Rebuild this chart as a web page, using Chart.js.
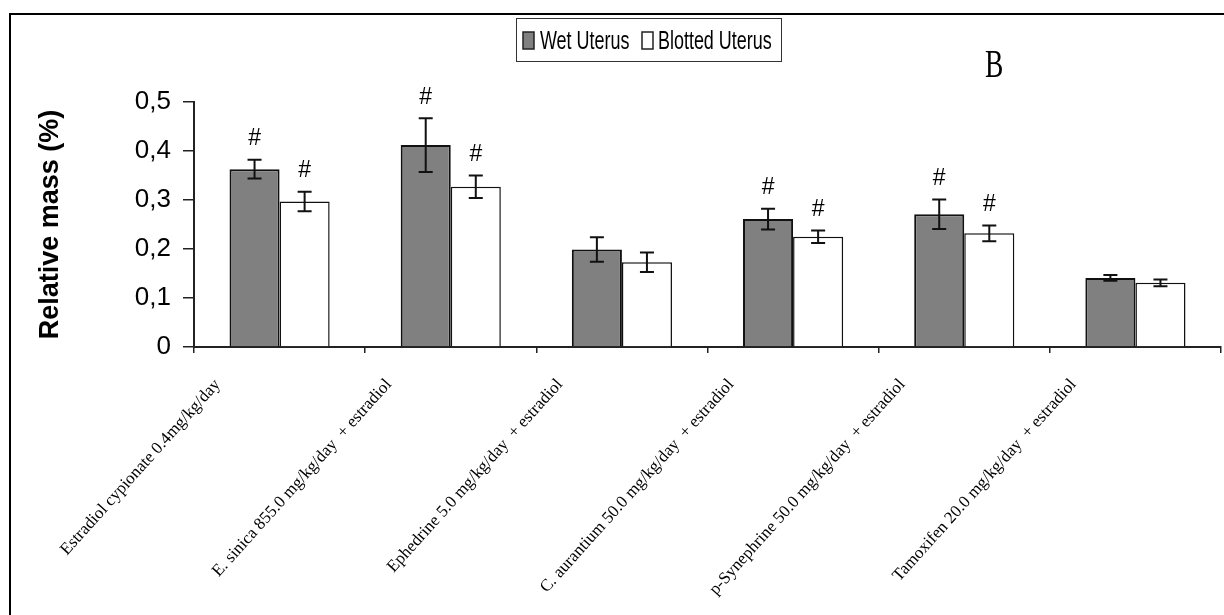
<!DOCTYPE html>
<html>
<head>
<meta charset="utf-8">
<script src="https://cdn.jsdelivr.net/npm/chart.js@4.4.0/dist/chart.umd.min.js"></script>
<style>
  body { margin: 0; background: #fff; }
  #wrap { width: 1224px; height: 615px; }
</style>
</head>
<body>
<div id="wrap"><canvas id="uterusChart" width="1224" height="615"></canvas></div>
<script>
const categories = [
    'Estradiol cypionate 0.4mg/kg/day',
    'E. sinica 855.0 mg/kg/day  + estradiol',
    'Ephedrine 5.0 mg/kg/day  + estradiol',
    'C. aurantium 50.0 mg/kg/day  + estradiol',
    'p-Synephrine 50.0 mg/kg/day  + estradiol',
    'Tamoxifen 20.0 mg/kg/day  + estradiol'
];
const wetUterus = [0.363, 0.412, 0.199, 0.261, 0.271, 0.141];
const wetErr = [0.019, 0.055, 0.025, 0.021, 0.030, 0.006];
const blottedUterus = [0.297, 0.327, 0.173, 0.225, 0.232, 0.131];
const blottedErr = [0.020, 0.023, 0.020, 0.013, 0.016, 0.007];
// '#' = significant
const wetSig = [true, true, false, true, true, false];
const blottedSig = [true, true, false, true, true, false];
const yTickLabels = ['0', '0,1', '0,2', '0,3', '0,4', '0,5'];

// error bars, '#' marks, legend box, frame and panel letter
const extras = {
    id: 'extras',
    afterDatasetsDraw(chart) {
        const ctx = chart.ctx;
        const y = chart.scales.y;
        ctx.save();
        chart.data.datasets.forEach((ds, di) => {
            const meta = chart.getDatasetMeta(di);
            meta.data.forEach((bar, i) => {
                const v = ds.data[i], e = ds.errors[i];
                const top = y.getPixelForValue(v + e);
                const bot = y.getPixelForValue(v - e);
                ctx.strokeStyle = '#111';
                ctx.lineWidth = 2;
                ctx.beginPath();
                ctx.moveTo(bar.x, top); ctx.lineTo(bar.x, bot);
                ctx.moveTo(bar.x - 7, top); ctx.lineTo(bar.x + 7, top);
                ctx.moveTo(bar.x - 7, bot); ctx.lineTo(bar.x + 7, bot);
                ctx.stroke();
                if (ds.sig[i]) {
                    ctx.fillStyle = '#000';
                    ctx.font = '23px "Liberation Sans", Arial';
                    ctx.textAlign = 'center';
                    ctx.textBaseline = 'middle';
                    ctx.fillText('#', bar.x, top - 21);
                }
            });
        });
        ctx.restore();
    },
    afterDraw(chart) {
        const ctx = chart.ctx;
        ctx.save();
        // frame
        ctx.strokeStyle = '#000';
        ctx.lineWidth = 2;
        ctx.beginPath();
        ctx.moveTo(10, 615); ctx.lineTo(10, 14); ctx.lineTo(1224, 14);
        ctx.stroke();

        // legend
        ctx.lineWidth = 1;
        ctx.strokeStyle = '#333';
        ctx.strokeRect(516.5, 18.5, 265, 43);
        const items = [{ x: 523, tx: 540 }, { x: 642, tx: 658 }];
        chart.data.datasets.forEach((ds, di) => {
            const it = items[di];
            ctx.fillStyle = ds.backgroundColor;
            ctx.fillRect(it.x, 32, 11, 17);
            ctx.lineWidth = 1.5;
            ctx.strokeStyle = '#222';
            ctx.strokeRect(it.x, 32, 11, 17);
            ctx.save();
            ctx.translate(it.tx, 49);
            ctx.scale(0.69, 1);
            ctx.fillStyle = '#000';
            ctx.font = '26px "Liberation Sans", Arial';
            ctx.textBaseline = 'alphabetic';
            ctx.fillText(ds.label, 0, 0);
            ctx.restore();
        });

        // panel letter
        ctx.translate(985, 77);
        ctx.scale(0.67, 1);
        ctx.fillStyle = '#000';
        ctx.font = '41px "Liberation Serif", "Times New Roman"';
        ctx.fillText('B', 0, 0);
        ctx.restore();
    }
};

const ctx = document.getElementById('uterusChart').getContext('2d');

const uterusChart = new Chart(ctx, {
    type: 'bar',
    data: {
        labels: categories,
        datasets: [{
            label: 'Wet Uterus',
            data: wetUterus,
            errors: wetErr,
            sig: wetSig,
            backgroundColor: '#808080',
            borderColor: '#111',
            borderWidth: 2
        }, {
            label: 'Blotted Uterus',
            data: blottedUterus,
            errors: blottedErr,
            sig: blottedSig,
            backgroundColor: '#ffffff',
            borderColor: '#111',
            borderWidth: 1.5
        }]
    },
    options: {
        responsive: false,
        animation: false,
        layout: { padding: { top: 102, right: 3, left: 0, bottom: 0 } },
        datasets: {
            bar: { categoryPercentage: 0.585, barPercentage: 1.0 }
        },
        scales: {
            x: {
                offset: true,
                grid: { drawOnChartArea: false, offset: true, tickLength: 6, color: '#222', lineWidth: 1.5 },
                border: { color: '#222', width: 2 },
                ticks: {
                    autoSkip: false,
                    minRotation: 48,
                    maxRotation: 48,
                    labelOffset: -62,
                    padding: 22,
                    color: '#000',
                    font: { family: '"Liberation Serif", "Times New Roman"', size: 17 }
                },
                afterFit: s => { s.height = 268; }
            },
            y: {
                min: 0,
                max: 0.5,
                ticks: {
                    stepSize: 0.1,
                    padding: 12,
                    color: '#000',
                    font: { family: '"Liberation Sans", Arial', size: 26 },
                    callback: (v, i) => yTickLabels[i]
                },
                grid: { drawOnChartArea: false, tickLength: 11, color: '#222', lineWidth: 1.5 },
                border: { color: '#222', width: 2 },
                title: {
                    display: true,
                    text: 'Relative mass (%)',
                    color: '#000',
                    font: { family: '"Liberation Sans", Arial', size: 27, weight: 'bold' },
                    padding: { top: 34, bottom: 0 }
                },
                afterFit: s => { s.width = 194; }
            }
        },
        plugins: {
            legend: { display: false },
            tooltip: { enabled: false }
        }
    },
    plugins: [extras]
});
</script>
</body>
</html>
